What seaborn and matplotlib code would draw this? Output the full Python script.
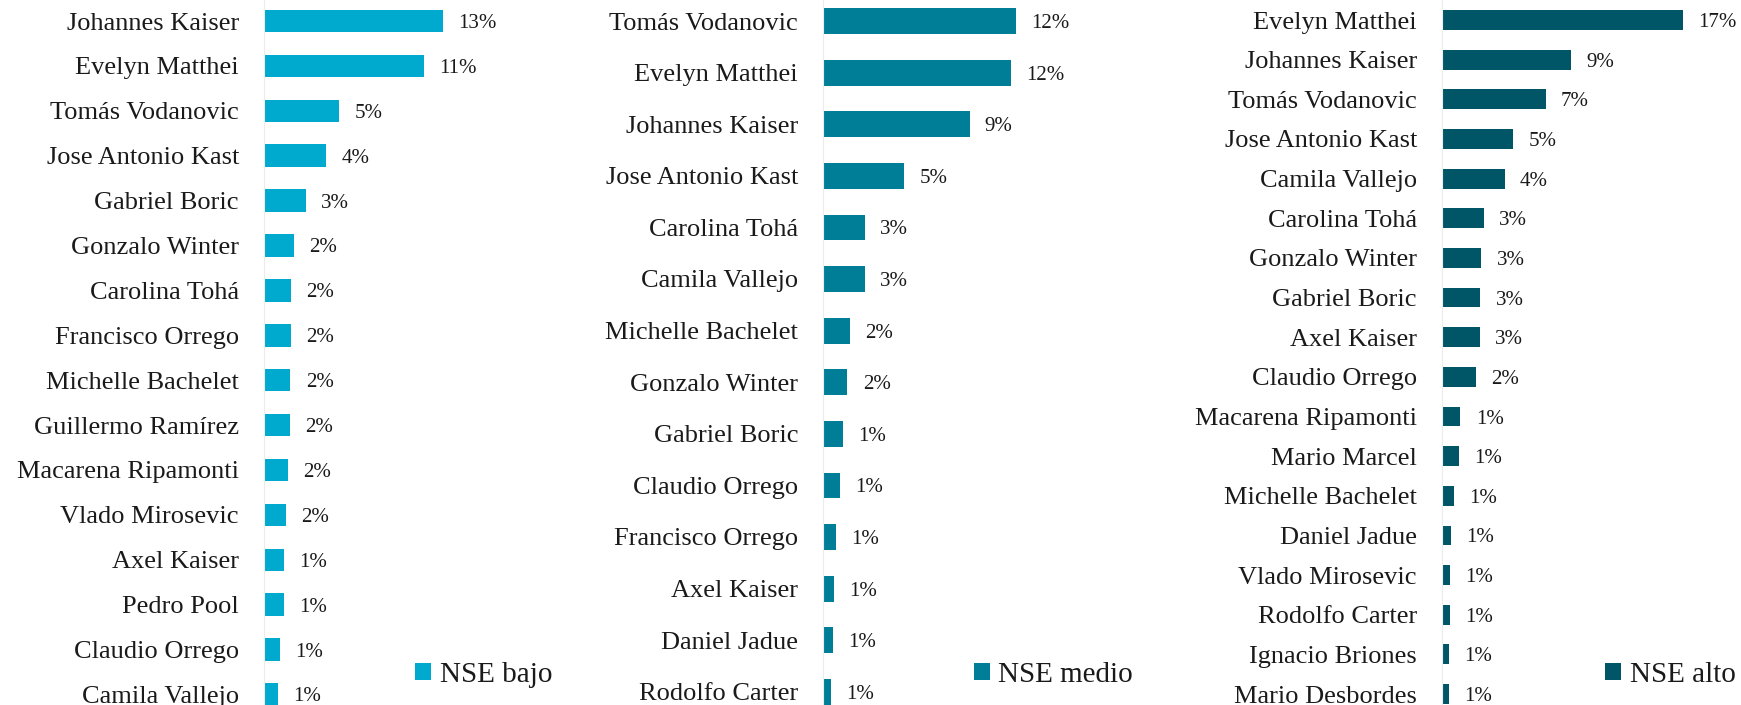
import matplotlib
matplotlib.use("Agg")
import matplotlib.pyplot as plt
import seaborn as sns
import pandas as pd
from matplotlib.patches import Patch

sns.set_theme(style="white")
plt.rcParams['font.family'] = ['Liberation Serif', 'DejaVu Serif']

# Share of mentions (%) by socioeconomic level
bajo_names = ["Johannes Kaiser", "Evelyn Matthei", "Tomás Vodanovic", "Jose Antonio Kast",
              "Gabriel Boric", "Gonzalo Winter", "Carolina Tohá", "Francisco Orrego",
              "Michelle Bachelet", "Guillermo Ramírez", "Macarena Ripamonti", "Vlado Mirosevic",
              "Axel Kaiser", "Pedro Pool", "Claudio Orrego", "Camila Vallejo"]
bajo_values = [12.68, 11.31, 5.33, 4.41, 2.94, 2.13, 1.89, 1.88,
               1.87, 1.86, 1.71, 1.57, 1.42, 1.39, 1.13, 1.00]

medio_names = ["Tomás Vodanovic", "Evelyn Matthei", "Johannes Kaiser", "Jose Antonio Kast",
               "Carolina Tohá", "Camila Vallejo", "Michelle Bachelet", "Gonzalo Winter",
               "Gabriel Boric", "Claudio Orrego", "Francisco Orrego", "Axel Kaiser",
               "Daniel Jadue", "Rodolfo Carter"]
medio_values = [12.28, 11.95, 9.32, 5.15, 2.66, 2.64, 1.69, 1.55,
                1.27, 1.05, 0.82, 0.71, 0.64, 0.51]

alto_names = ["Evelyn Matthei", "Johannes Kaiser", "Tomás Vodanovic", "Jose Antonio Kast",
              "Camila Vallejo", "Carolina Tohá", "Gonzalo Winter", "Gabriel Boric",
              "Axel Kaiser", "Claudio Orrego", "Macarena Ripamonti", "Mario Marcel",
              "Michelle Bachelet", "Daniel Jadue", "Vlado Mirosevic", "Rodolfo Carter",
              "Ignacio Briones", "Mario Desbordes"]
alto_values = [17.00, 9.07, 7.30, 5.04, 4.41, 2.93, 2.78, 2.70,
               2.67, 2.41, 1.30, 1.19, 0.84, 0.64, 0.56, 0.53, 0.52, 0.51]

series_labels = ["NSE bajo", "NSE medio", "NSE alto"]
colors = ["#00A9CE", "#007E98", "#005566"]

W, H = 1741, 705
fig = plt.figure(figsize=(W / 100, H / 100), dpi=100)
fig.patch.set_facecolor("white")

# pixel layout of each panel: axes left/right, value scale (px per %), row geometry
layout = [
    dict(left=264, right=560, px_per=14.12, first=21, step=44.9, leg_x=415),
    dict(left=823, right=1130, px_per=15.72, first=21, step=51.6, leg_x=974),
    dict(left=1442, right=1741, px_per=14.18, first=20, step=39.65, leg_x=1605),
]
data = [(bajo_names, bajo_values), (medio_names, medio_values), (alto_names, alto_values)]


def pct_label(v):
    return f"{int(v + 0.5)}%"


for (names, values), lab, col, lay in zip(data, series_labels, colors, layout):
    ax = fig.add_axes([lay["left"] / W, 0, (lay["right"] - lay["left"]) / W, 1])
    df = pd.DataFrame({"candidato": names, "pct": values})
    sns.barplot(data=df, x="pct", y="candidato", order=names, orient="h",
                color=col, saturation=1, width=0.5, linewidth=0, ax=ax)
    ax.set_xlim(0, (lay["right"] - lay["left"]) / lay["px_per"])
    top = -lay["first"] / lay["step"]
    bottom = (H - lay["first"]) / lay["step"]
    ax.set_ylim(bottom, top)

    texts = ax.bar_label(ax.containers[0], labels=[pct_label(v) for v in values],
                         padding=11, fontsize=15, color="#1a1a1a")
    for t in texts:
        t.set_verticalalignment("center_baseline")

    ax.set_xlabel("")
    ax.set_ylabel("")
    ax.xaxis.set_visible(False)
    ax.tick_params(axis="y", length=0, pad=18, labelsize=19, labelcolor="#1a1a1a")
    for s in ["top", "right", "bottom"]:
        ax.spines[s].set_visible(False)
    ax.spines["left"].set_color("#ececec")
    ax.spines["left"].set_linewidth(0.8)
    ax.set_facecolor("none")

    ax.legend(handles=[Patch(facecolor=col, edgecolor="none", label=lab)],
              loc="center left", bbox_to_anchor=(lay["leg_x"] / W, 1 - 675 / H),
              bbox_transform=fig.transFigure, frameon=False, fontsize=21,
              handlelength=0.54, handleheight=0.54, handletextpad=0.3,
              borderpad=0, borderaxespad=0, labelcolor="#1a1a1a")

fig.savefig("out.png", dpi=100, facecolor="white")
